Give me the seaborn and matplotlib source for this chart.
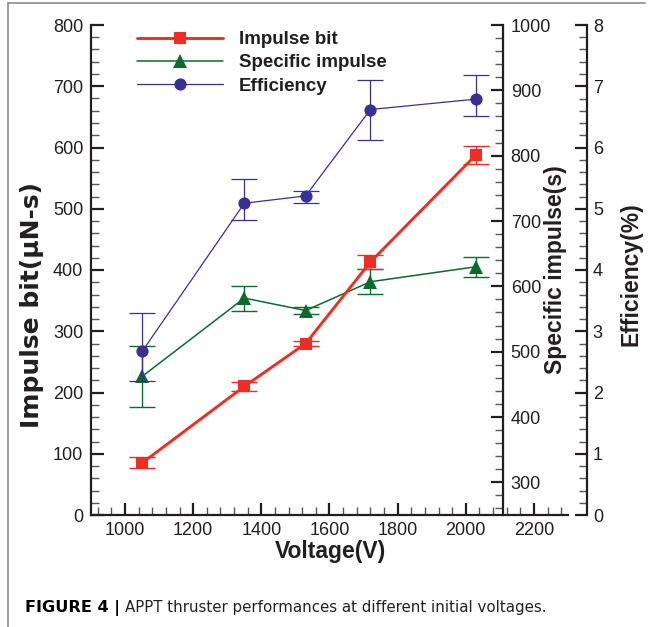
import matplotlib
matplotlib.use("Agg")
import matplotlib.pyplot as plt
from matplotlib.ticker import MultipleLocator
from matplotlib.lines import Line2D
import seaborn as sns
import numpy as np

# ---------------- data ----------------
voltage = [1050, 1350, 1530, 1720, 2030]
impulse_bit = [85, 210, 280, 413, 588]
impulse_bit_err = [9, 7.5, 4, 12, 15]
specific_impulse = [462, 582, 563, 607, 630]
specific_impulse_err = [47, 19, 6, 19, 15]
efficiency = [2.67, 5.09, 5.21, 6.62, 6.79]
efficiency_err_low = [0.48, 0.28, 0.12, 0.49, 0.28]
efficiency_err_high = [0.63, 0.40, 0.08, 0.49, 0.39]

series_labels = ["Impulse bit", "Specific impulse", "Efficiency"]
x_label = "Voltage(V)"
y_labels = ["Impulse bit(\u03bcN-s)", "Specific impulse(s)", "Efficiency(%)"]
caption_bold = "FIGURE 4 |"
caption_rest = "APPT thruster performances at different initial voltages."

# ---------------- style ----------------
sns.set_theme(style="ticks")
plt.rcParams["font.family"] = ["Liberation Sans", "DejaVu Sans"]
plt.rcParams["mathtext.default"] = "regular"

RED = "#EE2E24"
GREEN = "#0B6A2E"
BLUE = "#3A2F93"
INK = "#231F20"

W, H = 653, 627
fig = plt.figure(figsize=(W / 100, H / 100), dpi=100, facecolor="white")
L, R, T, B = 91, 568, 25, 515
ax = fig.add_axes([L / W, 1 - B / H, (R - L) / W, (B - T) / H])
ax2 = ax.twinx()
ax3 = ax.twinx()
for a in (ax, ax2, ax3):
    a.patch.set_visible(False)
ax.set_zorder(3)
ax2.set_zorder(1)
ax3.set_zorder(2)

# ---------------- series ----------------
sns.lineplot(x=voltage, y=impulse_bit, ax=ax, color=RED, marker="s", markersize=8.5,
             markeredgewidth=0, linewidth=2.1, label=series_labels[0])
ax.errorbar(voltage, impulse_bit, yerr=impulse_bit_err, fmt="none", ecolor=RED,
            elinewidth=1.0, capsize=9.5, capthick=1.0)

sns.lineplot(x=voltage, y=specific_impulse, ax=ax2, color=GREEN, marker="^", markersize=9.5,
             markeredgewidth=0, linewidth=1.1, label=series_labels[1])
ax2.errorbar(voltage, specific_impulse, yerr=specific_impulse_err, fmt="none", ecolor=GREEN,
             elinewidth=1.0, capsize=9.5, capthick=1.0)

sns.lineplot(x=voltage, y=efficiency, ax=ax3, color=BLUE, marker="o", markersize=8.8,
             markeredgewidth=0, linewidth=0.9, label=series_labels[2])
ax3.errorbar(voltage, efficiency, yerr=[efficiency_err_low, efficiency_err_high], fmt="none",
             ecolor=BLUE, elinewidth=0.9, capsize=9.5, capthick=0.9)

# ---------------- axes ----------------
ax.set_xlim(900, 2300)
ax.set_ylim(0, 800)
ax2.set_ylim(250, 1000)
ax3.set_ylim(0, 8)

ax.xaxis.set_major_locator(MultipleLocator(200))
ax.xaxis.set_minor_locator(MultipleLocator(40))
ax.yaxis.set_major_locator(MultipleLocator(100))
ax.yaxis.set_minor_locator(MultipleLocator(20))
ax2.set_yticks(np.arange(300, 1001, 100))
ax2.yaxis.set_minor_locator(MultipleLocator(20))
ax3.yaxis.set_major_locator(MultipleLocator(1))
ax3.yaxis.set_minor_locator(MultipleLocator(0.2))

spine_w = 1.6
ax.spines["top"].set_visible(False)
ax.spines["right"].set_visible(False)
for s in ("left", "bottom"):
    ax.spines[s].set_linewidth(spine_w)
    ax.spines[s].set_color(INK)
for a, pos in ((ax2, (503 - L) / (R - L)), (ax3, (587 - L) / (R - L))):
    for s in ("top", "left", "bottom"):
        a.spines[s].set_visible(False)
    a.spines["right"].set_position(("axes", pos))
    a.spines["right"].set_linewidth(spine_w)
    a.spines["right"].set_color(INK)

for a in (ax, ax2, ax3):
    a.tick_params(which="major", direction="in", length=9, width=1.6, color=INK,
                  labelsize=13, labelcolor=INK)
    a.tick_params(which="minor", direction="in", length=5.5, width=1.0, color="#555555")
ax.tick_params(axis="x", which="major", pad=5)
ax.tick_params(axis="y", which="major", pad=5.5)
ax2.tick_params(axis="y", which="major", pad=5.5)
ax3.tick_params(axis="y", which="major", pad=4.2)

lab_kw = dict(fontsize=16.5, fontweight="bold", color=INK)
ax.set_xlabel(x_label, **lab_kw)
ax.xaxis.set_label_coords(0.501, -0.052)
ax.set_ylabel(y_labels[0], fontsize=18, fontweight="bold", color=INK,
              family=["DejaVu Sans"])
ax.yaxis.set_label_coords((44 - L) / (R - L), (B - 305) / (B - T))
ax2.set_ylabel(y_labels[1], **lab_kw)
ax2.yaxis.set_label_coords((544 - L) / (R - L), 0.5)
ax3.set_ylabel(y_labels[2], **lab_kw)
ax3.yaxis.set_label_coords((620 - L) / (R - L), 0.492)

# ---------------- legend ----------------
handles, labels = [], []
for a in (ax, ax2, ax3):
    h, l = a.get_legend_handles_labels()
    handles += h
    labels += l
    if a.get_legend() is not None:
        a.get_legend().remove()
leg = ax.legend(handles, labels, loc="upper left", bbox_to_anchor=(137 / W, 1 - 31 / H),
                bbox_transform=fig.transFigure, frameon=False, borderpad=0, borderaxespad=0,
                handlelength=4.6, handletextpad=0.85, labelspacing=0.33,
                prop={"size": 13.5, "weight": "bold"})
for t in leg.get_texts():
    t.set_color(INK)

# ---------------- frame and caption ----------------
fig.add_artist(Line2D([8 / W, 645 / W], [1 - 3 / H, 1 - 3 / H], transform=fig.transFigure,
                      color="#8a8a8a", linewidth=1.2))
fig.add_artist(Line2D([8 / W, 8 / W], [1 - 3 / H, 0], transform=fig.transFigure,
                      color="#8a8a8a", linewidth=1.2))

t1 = fig.text(25 / W, 1 - 612 / H, caption_bold, fontsize=11.6, fontweight="bold",
              color="black", va="baseline", ha="left", family=["DejaVu Sans"])
fig.canvas.draw()
bb = t1.get_window_extent(renderer=fig.canvas.get_renderer())
fig.text((bb.x1 + 5) / W, 1 - 612 / H, caption_rest, fontsize=10.85, color="#222222",
         va="baseline", ha="left", family=["DejaVu Sans"])

fig.savefig("out.png", dpi=100, facecolor="white")
